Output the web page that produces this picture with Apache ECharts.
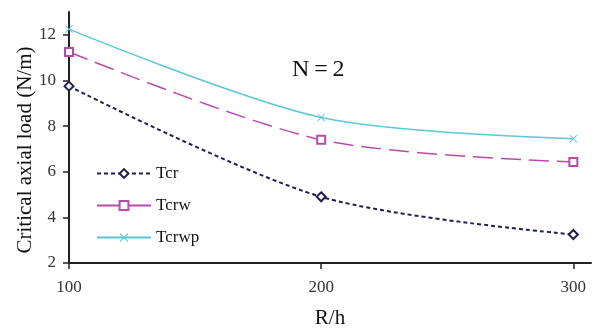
<!DOCTYPE html>
<html><head><meta charset="utf-8">
<script src="https://cdn.jsdelivr.net/npm/echarts@6/dist/echarts.min.js"></script>
<style>html,body{margin:0;padding:0;background:#fff}#c{width:596px;height:329px}</style>
</head><body><div id="c"></div>
<script>
const xValues = [100, 200, 300];
const tcr = [9.75, 4.9, 3.25];
const tcrw = [11.25, 7.4, 6.43];
const tcrwp = [12.25, 8.38, 7.45];
const xTicks = [100, 200, 300];
const yTicks = [2, 4, 6, 8, 10, 12];
const yTitle = 'Critical axial load (N/m)';

const font = 'Liberation Serif, Times New Roman, serif';
const cross = 'path://M0,0.8 L0.8,0 L5,4.2 L9.2,0 L10,0.8 L5.8,5 L10,9.2 L9.2,10 L5,5.8 L0.8,10 L0,9.2 L4.2,5Z';
const pair = (ys) => xValues.map((x, i) => [x, ys[i]]);

const chart = echarts.init(document.getElementById('c'), null, {renderer: 'canvas'});
chart.setOption({
  animation: false,
  backgroundColor: '#fff',
  title: {text: 'N\u2009=\u20092', left: 292, top: 58, padding: 0, textStyle: {fontFamily: font, fontSize: 24, fontWeight: 'normal', color: '#111'}},
  grid: {left: 69, right: 5, top: 12, bottom: 66, outerBoundsMode: 'none', containLabel: false},
  legend: {
    orient: 'vertical', left: 96, top: 165, padding: 0, itemWidth: 54, itemHeight: 11, itemGap: 15,
    textStyle: {fontFamily: font, fontSize: 17, color: '#111'},
    data: [{name: 'Tcr'}, {name: 'Tcrw', lineStyle: {type: 'solid'}}, {name: 'Tcrwp'}]
  },
  graphic: [{
    type: 'text', x: 25, y: 150, rotation: Math.PI / 2,
    style: {text: yTitle, font: '21px ' + font, fill: '#111', align: 'center', verticalAlign: 'middle'}
  }],
  xAxis: {
    type: 'value', min: 100, max: 307,
    name: 'R/h', nameLocation: 'middle', nameGap: 45,
    nameTextStyle: {fontFamily: font, fontSize: 21, color: '#111'},
    axisLine: {lineStyle: {color: '#222', width: 2}},
    axisTick: {customValues: xTicks, length: 6, lineStyle: {color: '#222', width: 1.5}},
    axisLabel: {customValues: xTicks, margin: 16, fontFamily: font, fontSize: 17, color: '#333'},
    splitLine: {show: false}
  },
  yAxis: {
    type: 'value', min: 2, max: 13,
    axisLine: {show: true, lineStyle: {color: '#222', width: 2}},
    axisTick: {show: true, customValues: yTicks, length: 6, lineStyle: {color: '#222', width: 1.5}},
    axisLabel: {customValues: yTicks, margin: 13, fontFamily: font, fontSize: 17, color: '#333'},
    splitLine: {show: false}
  },
  series: [
    {name: 'Tcr', type: 'line', data: pair(tcr), smooth: 0.3,
     symbol: 'emptyDiamond', symbolSize: 9, color: '#202050',
     lineStyle: {type: [4, 3], width: 2, color: '#202050'},
     itemStyle: {color: '#202050', borderColor: '#202050', borderWidth: 1.3}},
    {name: 'Tcrw', type: 'line', data: pair(tcrw), smooth: 0.3,
     symbol: 'emptyRect', symbolSize: 8, color: '#b64caa',
     lineStyle: {type: [20, 8], width: 1.5, color: '#b64caa'},
     itemStyle: {color: '#b64caa', borderColor: '#b64caa', borderWidth: 1.3}},
    {name: 'Tcrwp', type: 'line', data: pair(tcrwp), smooth: 0.3,
     symbol: cross, symbolSize: 8, color: '#5cc6d6',
     lineStyle: {width: 1.5, color: '#5cc6d6'},
     itemStyle: {color: '#5cc6d6'}}
  ]
});
</script></body></html>
